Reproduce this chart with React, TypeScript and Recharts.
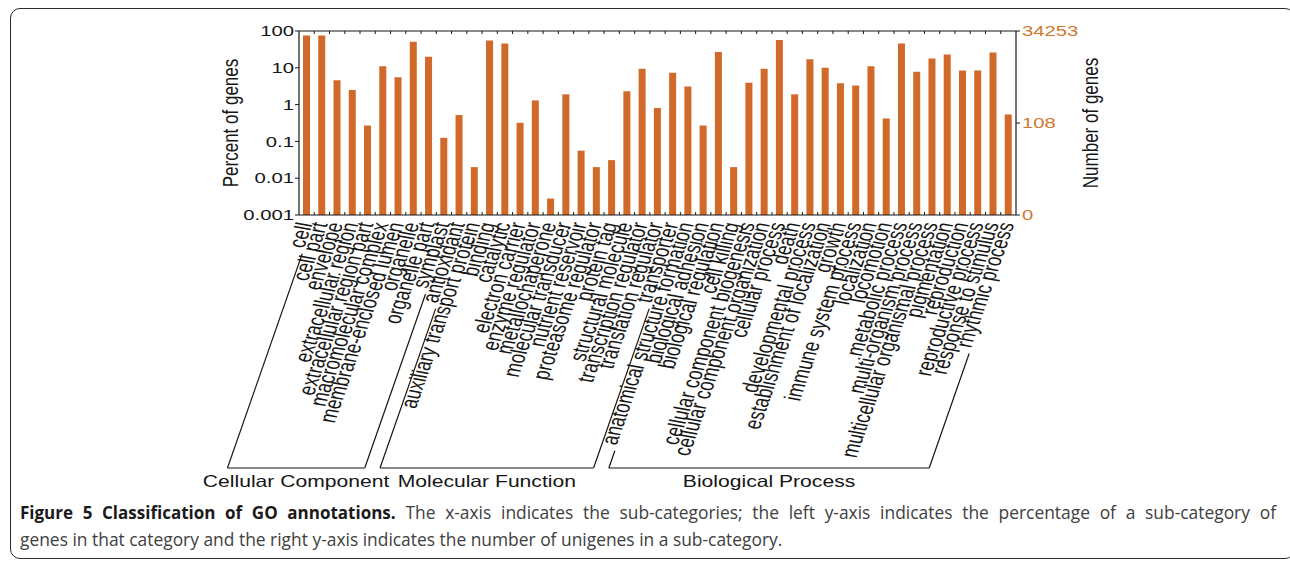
import React from "react";
import { BarChart, Bar, XAxis, YAxis } from "recharts";

// GO sub-categories, left to right
const categories = [
  "cell", "cell part", "envelope", "extracellular region", "extracellular region part",
  "macromolecular complex", "membrane-enclosed lumen", "organelle", "organelle part", "symplast",
  "antioxidant", "auxiliary transport protein", "binding", "catalytic", "electron carrier",
  "enzyme regulator", "metallochaperone", "molecular transducer", "nutrient reservoir",
  "proteasome regulator", "protein tag", "structural molecule", "transcription regulator",
  "translation regulator", "transporter",
  "anatomical structure formation", "biological adhesion", "biological regulation", "cell killing",
  "cellular component biogenesis", "cellular component organization", "cellular process", "death",
  "developmental process", "establishment of localization", "growth", "immune system process",
  "localization", "locomotion", "metabolic process", "multi-organism process",
  "multicellular organismal process", "pigmentation", "reproduction", "reproductive process",
  "response to stimulus", "rhythmic process",
];

// percent of genes (log axis)
const percentOfGenes = [
  76, 75, 4.6, 2.5, 0.27, 11, 5.5, 51, 20, 0.125,
  0.52, 0.02, 55, 46, 0.32, 1.3, 0.0028, 1.9, 0.056, 0.02, 0.031, 2.3, 9.4, 0.81, 7.3,
  3.1, 0.27, 27, 0.02, 3.9, 9.4, 57, 1.9, 17, 10, 3.8, 3.3, 11, 0.42, 46, 7.8, 18, 23, 8.5, 8.5, 26, 0.54,
];

const groupNames = ["Cellular Component", "Molecular Function", "Biological Process"];
const groupSizes = [10, 15, 22];

const leftTicks = [0.001, 0.01, 0.1, 1, 10, 100];
const totalGenes = 34253;
const rightTickCounts = [0, 108, 34253];

const data = categories.map((name, i) => ({ name, pct: percentOfGenes[i] }));

const DOMAIN_MIN = 0.001;
const rightTicks = rightTickCounts.map((c) => (c === 0 ? DOMAIN_MIN : (c / totalGenes) * 100));

// layout
const W = 1290;
const H = 500;
const PLOT_L = 299;
const PLOT_R = 1016;
const PLOT_T = 31;
const PLOT_B = 215;
const AXIS_W = 60;
const AXIS_H = 1;
const BAND = (PLOT_R - PLOT_L) / categories.length;

const INK = "#161616";
const BAR = "#D0692A";
const ORANGE = "#D0782F";
const FONT = '"Liberation Sans", Arial, Helvetica, sans-serif';
const SX = 1.4; // the figure is stretched horizontally
const LABEL_SIZE = 17;
const ROT = 76;
const DIR_X = -SX * Math.cos((ROT * Math.PI) / 180);
const DIR_Y = Math.sin((ROT * Math.PI) / 180);
const BRACKET_Y = 468;

const groupStarts = groupSizes.map((_, g) => groupSizes.slice(0, g).reduce((a, b) => a + b, 0));

let ctx: CanvasRenderingContext2D | null = null;
function textWidth(s: string, size: number) {
  if (!ctx && typeof document !== "undefined") ctx = document.createElement("canvas").getContext("2d");
  if (!ctx) return s.length * size * 0.5;
  ctx.font = `${size}px "Liberation Sans"`;
  return ctx.measureText(s).width;
}

function CategoryTick(props: any) {
  const { x, y, payload, index } = props;
  const label = String(payload.value);
  const ax = x + 6;
  const ay = y + 9;
  const g = groupStarts.findIndex((s, k) => index >= s && index < s + groupSizes[k]);
  const isFirst = index === groupStarts[g];
  const isLast = index === groupStarts[g] + groupSizes[g] - 1;
  const tStart = textWidth(label, LABEL_SIZE) + 5;
  const tEnd = (BRACKET_Y - ay) / DIR_Y;
  const bx = ax + DIR_X * tEnd;
  const span = (groupSizes[g] - 1) * BAND;

  return (
    <g>
      {index > 0 && (
        <line x1={x - BAND / 2} x2={x - BAND / 2} y1={y} y2={y - 3} stroke={INK} strokeWidth={1} />
      )}
      <text
        transform={`translate(${ax},${ay}) scale(${SX},1) rotate(${-ROT})`}
        textAnchor="end"
        fontSize={LABEL_SIZE}
        fontFamily={FONT}
        fill={INK}
      >
        {label}
      </text>
      {(isFirst || isLast) && tStart < tEnd && (
        <line
          x1={ax + DIR_X * tStart}
          y1={ay + DIR_Y * tStart}
          x2={bx}
          y2={BRACKET_Y}
          stroke={INK}
          strokeWidth={1.2}
        />
      )}
      {isFirst && (
        <g>
          <line x1={bx} x2={bx + span} y1={BRACKET_Y} y2={BRACKET_Y} stroke={INK} strokeWidth={1.2} />
          <text
            transform={`translate(${bx + span / 2},${BRACKET_Y + 19}) scale(1.28,1)`}
            textAnchor="middle"
            fontSize={16.5}
            fontFamily={FONT}
            fill={INK}
          >
            {groupNames[g]}
          </text>
        </g>
      )}
    </g>
  );
}

function TopTick(props: any) {
  const { x, y, index } = props;
  if (index >= categories.length - 1) return <g />;
  return <line x1={x + BAND / 2} x2={x + BAND / 2} y1={y} y2={y + 3} stroke={INK} strokeWidth={1} />;
}

function LeftTick(props: any) {
  const { x, y, payload } = props;
  return (
    <text
      transform={`translate(${x},${y}) scale(${SX},1)`}
      textAnchor="end"
      dy="0.36em"
      fontSize={14.5}
      fontFamily={FONT}
      fill={INK}
    >
      {String(payload.value)}
    </text>
  );
}

function RightTick(props: any) {
  const { x, y, index } = props;
  return (
    <text
      transform={`translate(${x},${y}) scale(${SX},1)`}
      textAnchor="start"
      dy="0.36em"
      fontSize={14.5}
      fontFamily={FONT}
      fill={ORANGE}
    >
      {String(rightTickCounts[index])}
    </text>
  );
}

function AxisTitle({ cx, text }: { cx: number; text: string }) {
  return (
    <text
      transform={`translate(${cx},${(PLOT_T + PLOT_B) / 2}) scale(1.25,1) rotate(-90)`}
      textAnchor="middle"
      fontSize={17}
      fontFamily={FONT}
      fill={INK}
    >
      {text}
    </text>
  );
}

export default function App() {
  return (
    <div
      style={{
        position: "absolute",
        left: 0,
        top: 0,
        width: 1290,
        height: 562,
        background: "#fff",
        overflow: "hidden",
      }}
    >
      <div
        style={{
          position: "absolute",
          left: 10,
          top: 8,
          width: 1285,
          height: 551,
          border: "1.5px solid #2b2b2b",
          borderRadius: 10,
          boxSizing: "border-box",
        }}
      />
      <div style={{ position: "absolute", left: 0, top: 0 }}>
        <BarChart
          width={W}
          height={H}
          data={data}
          margin={{
            top: PLOT_T - AXIS_H,
            left: PLOT_L - AXIS_W,
            right: W - PLOT_R - AXIS_W,
            bottom: H - PLOT_B - AXIS_H,
          }}
        >
          <XAxis
            xAxisId="bottom"
            dataKey="name"
            height={AXIS_H}
            interval={0}
            tickSize={0}
            tickMargin={0}
            tickLine={false}
            axisLine={{ stroke: INK, strokeWidth: 1.2 }}
            tick={<CategoryTick />}
          />
          <XAxis
            xAxisId="top"
            dataKey="name"
            orientation="top"
            height={AXIS_H}
            interval={0}
            tickSize={0}
            tickMargin={0}
            tickLine={false}
            axisLine={{ stroke: INK, strokeWidth: 1.2 }}
            tick={<TopTick />}
          />
          <YAxis
            yAxisId="left"
            width={AXIS_W}
            scale="log"
            domain={[DOMAIN_MIN, 100]}
            allowDataOverflow
            ticks={leftTicks}
            interval={0}
            tickSize={4}
            tickMargin={1}
            tickLine={{ stroke: INK }}
            axisLine={{ stroke: INK, strokeWidth: 1.2 }}
            tick={<LeftTick />}
            label={{ content: () => <AxisTitle cx={238} text="Percent of genes" /> }}
          />
          <YAxis
            yAxisId="right"
            orientation="right"
            width={AXIS_W}
            scale="log"
            domain={[DOMAIN_MIN, 100]}
            allowDataOverflow
            ticks={rightTicks}
            interval={0}
            tickSize={4}
            tickMargin={2}
            tickLine={{ stroke: INK }}
            axisLine={{ stroke: INK, strokeWidth: 1.2 }}
            tick={<RightTick />}
            label={{ content: () => <AxisTitle cx={1098} text="Number of genes" /> }}
          />
          <Bar
            dataKey="pct"
            xAxisId="bottom"
            yAxisId="left"
            fill={BAR}
            barSize={7}
            isAnimationActive={false}
          />
        </BarChart>
      </div>
      <div
        style={{
          position: "absolute",
          left: 20,
          top: 499,
          width: 1256,
          fontFamily: '"Open Sans", "Noto Sans", sans-serif',
          fontSize: 17.4,
          lineHeight: "26px",
          color: "#404040",
        }}
      >
        <div style={{ textAlign: "justify", textAlignLast: "justify", whiteSpace: "nowrap" as const }}>
          <span style={{ fontWeight: 700, color: "#1a1a1a", fontSize: 17 }}>
            Figure 5 Classification of GO annotations.
          </span>{" "}
          The x-axis indicates the sub-categories; the left y-axis indicates the percentage of a sub-category of
        </div>
        <div>genes in that category and the right y-axis indicates the number of unigenes in a sub-category.</div>
      </div>
    </div>
  );
}
